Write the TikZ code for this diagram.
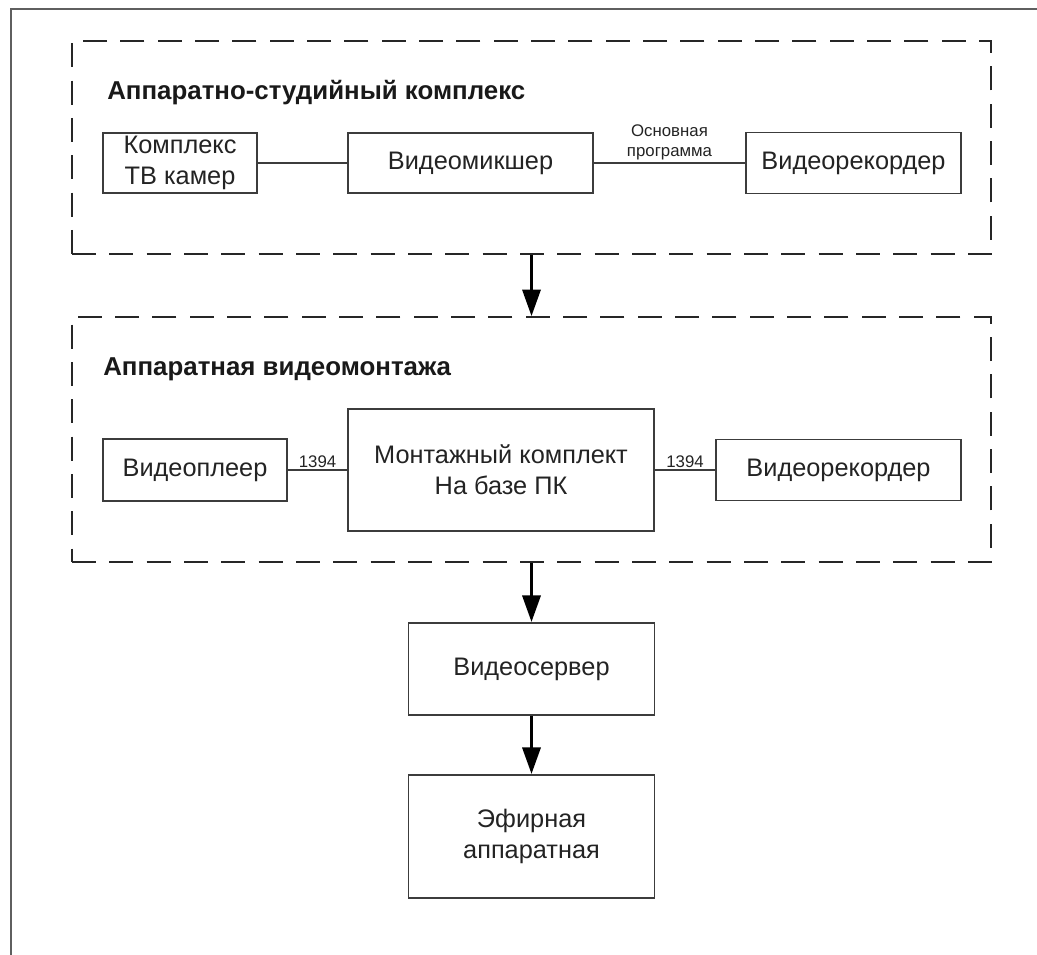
\documentclass[tikz,border=0pt]{standalone}
\usepackage{fontspec}
\setmainfont{Liberation Sans}
\usetikzlibrary{arrows.meta, positioning}
\definecolor{lineGray}{RGB}{60,60,60}
\definecolor{frameGray}{RGB}{95,95,95}
\definecolor{inkGray}{RGB}{35,35,35}

\begin{document}
\begin{tikzpicture}[
    x=0.75pt, y=-0.75pt,
    block/.style={rectangle, draw=lineGray, line width=1.4pt, inner sep=0pt, align=center, text=inkGray, font=\fontsize{19}{23}\selectfont},
    group/.style={rectangle, draw=black!85, line width=1.2pt, dash pattern=on 18pt off 10pt, inner sep=0pt, minimum width=689.25pt},
    title/.style={anchor=base west, inner sep=0pt, text=black!90, font=\bfseries\fontsize{19.4}{23}\selectfont},
    link/.style={draw=lineGray, line width=1.2pt},
    lbl/.style={inner sep=1.5pt, text=inkGray, align=center, font=\fontsize{12.6}{14.8}\selectfont},
    flow/.style={draw=black, line width=2.6pt, -{Triangle[length=20pt, width=13.5pt]}}
]
    \useasboundingbox (0,0) rectangle (1037,955);
    \draw[frameGray, line width=1.5pt] (11,955) |- (1037,9);

    \node[group, minimum height=159.75pt] (studio) at (531.5,147.5) {};
    \node[title] (studioTitle) at (107,100) {Аппаратно-студийный комплекс};
    \node[block, minimum width=115.5pt, minimum height=45pt] (cams) at (180,163) {Комплекс\\ТВ камер};
    \node[block, minimum width=183.75pt, minimum height=45pt] (mixer) at (470.5,163) {Видеомикшер};
    \node[block, minimum width=161.25pt, minimum height=45.75pt] (recA) at (853.5,163) {Видеорекордер};

    \node[group, minimum height=183.75pt] (editing) at (531.5,439.5) {};
    \node[title] (editTitle) at (103,375) {Аппаратная видеомонтажа};
    \node[block, minimum width=138pt, minimum height=46.5pt] (player) at (195,470) {Видеоплеер};
    \node[block, minimum width=229.5pt, minimum height=91.5pt] (kit) at (501,470) {Монтажный комплект\\На базе ПК};
    \node[block, minimum width=183.75pt, minimum height=45.75pt] (recB) at (838.5,470) {Видеорекордер};

    \node[block, minimum width=184.5pt, minimum height=69pt] (server) at (531.5,669) {Видеосервер};
    \node[block, minimum width=184.5pt, minimum height=92.25pt] (onair) at (531.5,836.5) {Эфирная\\аппаратная};

    \draw[link] (cams) -- (mixer);
    \draw[link] (mixer) -- node[lbl, above] {Основная\\программа} (recA);
    \draw[link] (player) -- node[lbl, above] {1394} (kit);
    \draw[link] (kit) -- node[lbl, above] {1394} (recB);

    \draw[flow] (studio) -- (editing);
    \draw[flow] (editing) -- (server);
    \draw[flow] (server) -- (onair);
\end{tikzpicture}
\end{document}
